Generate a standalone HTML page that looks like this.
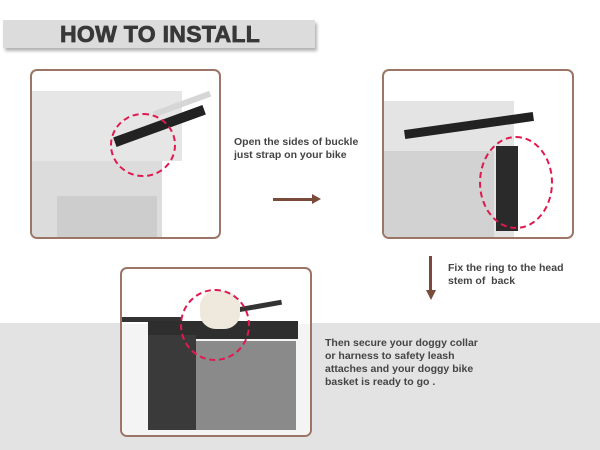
<!DOCTYPE html>
<html><head><style>
body{margin:0;width:600px;height:450px;background:#fff;position:relative;overflow:hidden;font-family:"Liberation Sans",Arial,sans-serif}
.abs{position:absolute}
.band{left:0;top:323px;width:600px;height:127px;background:#e3e3e3}
.hdr{left:3px;top:20px;width:312px;height:28px;background:#dcdcdc;box-shadow:2px 3px 3px rgba(0,0,0,.3)}
.hdr span{position:absolute;left:57px;top:1px;font-weight:900;font-size:23px;color:#383838;letter-spacing:0.3px;-webkit-text-stroke:0.8px #383838}
.fr{border:2px solid #9b7667;border-radius:7px;box-sizing:border-box;overflow:hidden;background:#fff}
.t{font-size:10.5px;font-weight:bold;color:#444;line-height:13px}
.circ{border:2.5px dashed #e0194e;border-radius:50%;box-sizing:border-box}
</style></head><body>
<div class="abs band"></div>
<div class="abs hdr"><span>HOW TO INSTALL</span></div>

<div class="abs fr" style="left:30px;top:69px;width:191px;height:170px">
 <div class="abs" style="left:0;top:20px;width:150px;height:70px;background:#e6e6e6"></div>
 <div class="abs" style="left:0;top:90px;width:130px;height:78px;background:#dcdcdc"></div>
 <div class="abs" style="left:25px;top:125px;width:100px;height:45px;background:#cdcdcd"></div>
 <div class="abs" style="left:120px;top:30px;width:60px;height:6px;background:#d6d6d6;transform:rotate(-20deg)"></div>
 <div class="abs" style="left:80px;top:50px;width:95px;height:10px;background:#222;transform:rotate(-20deg)"></div>
 <div class="abs circ" style="left:78px;top:42px;width:66px;height:64px"></div>
</div>
<div class="abs t" style="left:234px;top:136px">Open the sides of buckle<br>just strap on your bike</div>
<div class="abs" style="left:273px;top:198px;width:40px;height:3px;background:#7a4a3a"></div>
<div class="abs" style="left:312px;top:194px;width:0;height:0;border-left:9px solid #7a4a3a;border-top:5px solid transparent;border-bottom:5px solid transparent"></div>

<div class="abs fr" style="left:382px;top:69px;width:192px;height:170px">
 <div class="abs" style="left:0;top:30px;width:130px;height:140px;background:#e4e4e4"></div>
 <div class="abs" style="left:0;top:80px;width:110px;height:90px;background:#d2d2d2"></div>
 <div class="abs" style="left:20px;top:50px;width:130px;height:9px;background:#222;transform:rotate(-8deg)"></div>
 <div class="abs" style="left:112px;top:75px;width:22px;height:85px;background:#2a2a2a"></div>
 <div class="abs circ" style="left:95px;top:65px;width:74px;height:93px"></div>
</div>
<div class="abs" style="left:429px;top:256px;width:3px;height:36px;background:#7a4a3a"></div>
<div class="abs" style="left:426px;top:290px;width:0;height:0;border-top:10px solid #7a4a3a;border-left:5px solid transparent;border-right:5px solid transparent"></div>
<div class="abs t" style="left:448px;top:262px">Fix the ring to the head<br>stem of &nbsp;back</div>

<div class="abs fr" style="left:120px;top:267px;width:192px;height:170px">
 <div class="abs" style="left:0;top:55px;width:188px;height:113px;background:#f4f4f4"></div>
 <div class="abs" style="left:0;top:48px;width:60px;height:5px;background:#333"></div>
 <div class="abs" style="left:110px;top:35px;width:50px;height:5px;background:#333;transform:rotate(-10deg)"></div>
 <div class="abs" style="left:26px;top:52px;width:150px;height:18px;background:#2e2e2e"></div>
 <div class="abs" style="left:26px;top:66px;width:48px;height:95px;background:#3a3a3a"></div>
 <div class="abs" style="left:74px;top:72px;width:100px;height:89px;background:#8a8a8a"></div>
 <div class="abs" style="left:78px;top:22px;width:40px;height:38px;background:#eee8dd;border-radius:40%"></div>
 <div class="abs circ" style="left:58px;top:20px;width:70px;height:72px"></div>
</div>
<div class="abs t" style="left:325px;top:337px">Then secure your doggy collar<br>or harness to safety leash<br>attaches and your doggy bike<br>basket is ready to go .</div>
</body></html>
